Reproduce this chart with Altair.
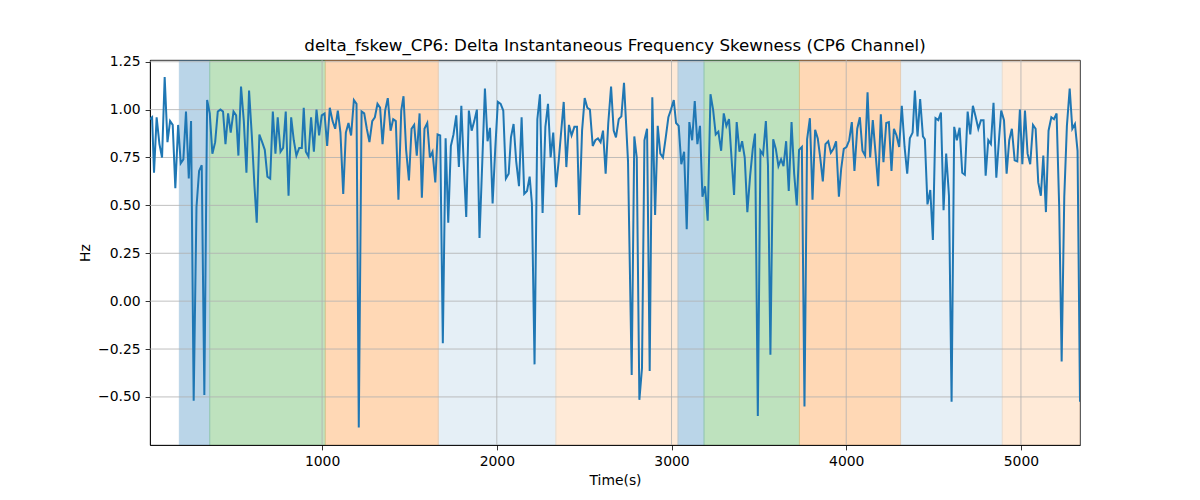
import altair as alt
import pandas as pd

# ---- data ----
time_s = [
    15, 27, 38, 53, 69, 84, 99, 115, 130, 145, 160, 176, 191, 206, 221, 237, 250, 265, 281, 296,
    311, 326, 342, 357, 372, 388, 403, 418, 433, 447, 462, 477, 493, 508, 521, 536, 552, 567, 582, 598,
    613, 626, 641, 657, 672, 687, 703, 718, 733, 746, 762, 777, 792, 808, 823, 838, 853, 869, 884, 895,
    907, 922, 937, 953, 968, 983, 998, 1014, 1029, 1044, 1060, 1075, 1090, 1105, 1121, 1136, 1151, 1166, 1182, 1197,
    1210, 1226, 1241, 1256, 1271, 1287, 1302, 1317, 1332, 1346, 1361, 1376, 1392, 1407, 1422, 1437, 1453, 1466, 1481, 1497,
    1512, 1527, 1542, 1558, 1571, 1586, 1602, 1617, 1632, 1648, 1661, 1676, 1691, 1707, 1722, 1737, 1752, 1768, 1783,
    1797, 1810, 1825, 1840, 1856, 1871, 1886, 1901, 1917, 1932, 1947, 1961, 1976, 1991, 2006, 2022, 2037, 2052, 2068, 2081,
    2096, 2111, 2127, 2142, 2157, 2173, 2188, 2201, 2216, 2232, 2247, 2262, 2278, 2293, 2308, 2323, 2339, 2354, 2367, 2383,
    2398, 2413, 2428, 2444, 2459, 2472, 2488, 2503, 2518, 2533, 2549, 2564, 2579, 2594, 2608, 2623, 2638, 2654, 2669,
    2682, 2698, 2713, 2728, 2751, 2772, 2787, 2801, 2816, 2831, 2845, 2860, 2875, 2890, 2906, 2921, 2936, 2951, 2967, 2982,
    2997, 3013, 3026, 3041, 3056, 3072, 3087, 3102, 3118, 3133, 3148, 3163, 3177, 3192, 3207, 3223, 3238, 3253, 3268, 3284,
    3299, 3314, 3329, 3345, 3358, 3373, 3389, 3404, 3419, 3434, 3450, 3465, 3478, 3494, 3509, 3524, 3540, 3552,
    3566, 3582, 3597, 3612, 3627, 3641, 3656, 3671, 3687, 3702, 3717, 3730, 3746, 3761, 3776, 3792, 3807, 3822, 3837, 3851,
    3866, 3881, 3897, 3912, 3927, 3942, 3958, 3971, 3986, 4002, 4017, 4032, 4047, 4063, 4078, 4093, 4108, 4122, 4137, 4152,
    4168, 4183, 4198, 4213, 4229, 4244, 4259, 4273, 4288, 4303, 4318, 4334, 4349, 4364, 4380, 4393, 4408, 4423, 4439, 4450,
    4465, 4481, 4496, 4511, 4527, 4542, 4557, 4572, 4588, 4603, 4618, 4633, 4649, 4664, 4679, 4695, 4710, 4725, 4740, 4756,
    4771, 4786, 4798, 4813, 4828, 4843, 4859, 4874, 4887, 4903, 4918, 4933, 4948, 4964, 4979, 4994, 5008, 5023, 5038, 5053,
    5069, 5084, 5099, 5114, 5128, 5143, 5158, 5174, 5189, 5204, 5219, 5233, 5248, 5263, 5279, 5294, 5309, 5324, 5338,
]

delta_fskew = [
    0.95, 0.96, 0.67, 0.96, 0.82, 0.75, 1.17, 0.83, 0.94, 0.92, 0.59, 0.92, 0.72, 0.74, 0.99, 0.64, 0.94, -0.52, 0.49, 0.68,
    0.71, -0.49, 1.05, 0.98, 0.77, 0.83, 0.99, 1.00, 0.99, 0.82, 0.98, 0.88, 0.99, 0.97, 0.76, 1.12, 0.94, 0.67, 1.10, 0.86,
    0.60, 0.41, 0.87, 0.83, 0.79, 0.65, 0.64, 0.99, 0.77, 0.96, 0.78, 0.80, 0.99, 0.55, 0.96, 0.84, 0.76, 0.80, 0.80, 1.01,
    0.78, 0.755, 0.96, 0.78, 1.00, 0.865, 0.97, 0.98, 0.81, 1.01, 0.94, 0.90, 0.995, 0.88, 0.56, 0.88, 0.93, 0.865, 1.05, 1.03,
    -0.66, 0.99, 0.98, 0.90, 0.83, 0.94, 0.96, 1.03, 1.01, 0.82, 0.995, 1.06, 0.89, 0.95, 0.94, 0.53, 0.995, 1.07, 0.79, 0.63,
    0.90, 0.92, 0.76, 0.98, 0.54, 0.90, 0.93, 0.75, 0.78, 0.62, 0.87, 0.865, -0.22, 0.85, 0.41, 0.81, 0.87, 0.97, 0.70,
    1.02, 0.73, 0.44, 0.995, 0.89, 0.94, 1.00, 0.33, 0.73, 1.11, 0.835, 0.905, 0.51, 0.795, 1.04, 1.03, 0.995, 0.64, 0.665, 0.855,
    0.925, 0.73, 0.60, 0.96, 0.56, 0.575, 0.65, 0.51, -0.33, 0.95, 1.08, 0.46, 0.91, 1.03, 0.75, 0.88, 0.595, 0.73, 0.87, 1.04,
    0.70, 0.92, 0.865, 0.91, 0.91, 0.45, 0.89, 1.06, 1.01, 1.00, 0.81, 0.84, 0.85, 0.83, 0.89, 0.665, 0.93, 1.12, 0.89,
    0.855, 0.95, 0.965, 1.14, 0.73, -0.385, 0.86, 0.75, -0.515, -0.35, 0.84, 0.90, -0.365, 1.065, 0.45, 0.915, 0.77, 0.75, 0.855, 0.96,
    1.00, 1.05, 0.93, 0.915, 0.715, 0.78, 0.375, 0.935, 0.84, 1.045, 0.82, 0.915, 0.545, 0.60, 0.42, 1.08, 1.00, 0.87, 0.885, 0.785,
    0.98, 0.915, 0.95, 0.725, 0.555, 0.935, 0.78, 0.835, 0.75, 0.465, 0.655, 0.795, 0.875, -0.60, 0.785, 0.765, 0.94, 0.71,
    -0.28, 0.845, 0.795, 0.705, 0.74, 0.705, 0.835, 0.575, 0.935, 0.665, 0.50, 0.79, 0.805, -0.55, 0.845, 0.955, 0.53, 0.895, 0.85, 0.75,
    0.625, 0.82, 0.835, 0.775, 0.795, 0.835, 0.545, 0.69, 0.795, 0.805, 0.84, 0.935, 0.68, 0.90, 0.96, 0.785, 0.76, 1.09, 0.75, 0.945,
    0.77, 0.60, 0.975, 0.725, 0.93, 0.935, 0.68, 0.90, 0.865, 0.805, 1.02, 0.805, 0.665, 0.85, 0.88, 1.10, 0.86, 1.055, 0.86, 0.845,
    0.505, 0.58, 0.32, 0.955, 0.945, 0.985, 0.475, 0.77, 0.55, -0.525, 0.91, 0.84, 0.905, 0.67, 0.66, 0.99, 0.87, 1.02, 0.965, 0.90,
    0.945, 0.945, 0.655, 0.84, 0.82, 1.035, 0.645, 0.84, 0.995, 0.945, 0.665, 0.84, 0.90, 0.735, 0.73, 1.00, 0.715, 0.995, 0.77, 0.715,
    0.92, 0.90, 0.62, 0.55, 0.76, 0.465, 0.89, 0.96, 0.95, 0.98, 0.49, -0.315, 0.545, 0.915, 1.11, 0.90, 0.925, 0.785, -0.525,
]

span_start = [183, 357, 1018, 1665, 2338, 3037, 3186, 3732, 4311, 4893]
span_end = [357, 1018, 1665, 2338, 3037, 3186, 3732, 4311, 4893, 5345]
span_color = ["#1f77b4", "#2ca02c", "#ff7f0e", "#1f77b4", "#ff7f0e",
              "#1f77b4", "#2ca02c", "#ff7f0e", "#1f77b4", "#ff7f0e"]
span_alpha = [0.3, 0.3, 0.3, 0.11, 0.16, 0.3, 0.3, 0.3, 0.11, 0.16]

x_ticks = [1000, 2000, 3000, 4000, 5000]
y_ticks = [-0.5, -0.25, 0.0, 0.25, 0.5, 0.75, 1.0, 1.25]

x_domain = [15, 5338]
y_domain = [-0.751, 1.259]

# ---- tables ----
line_df = pd.DataFrame({"t": time_s, "v": delta_fskew})
span_df = pd.DataFrame({"start": span_start, "end": span_end,
                        "color": span_color, "alpha": span_alpha})
xgrid_df = pd.DataFrame({"gx": x_ticks})
ygrid_df = pd.DataFrame({"gy": y_ticks})

FONT = "DejaVu Sans"

x_scale = alt.Scale(domain=x_domain, nice=False, zero=False)
y_scale = alt.Scale(domain=y_domain, nice=False, zero=False)
x_axis = alt.Axis(values=x_ticks, format="d", title="Time(s)", grid=False)
y_axis = alt.Axis(values=y_ticks, format=".2f", title="Hz", grid=False)

spans = alt.Chart(span_df).mark_rect(strokeWidth=1, clip=True).encode(
    x=alt.X("start:Q", scale=x_scale, axis=x_axis),
    x2="end:Q",
    fill=alt.Fill("color:N", scale=None),
    stroke=alt.Stroke("color:N", scale=None),
    opacity=alt.Opacity("alpha:Q", scale=None),
)

xgrid = alt.Chart(xgrid_df).mark_rule(color="#b0b0b0", strokeWidth=0.8).encode(
    x=alt.X("gx:Q", scale=x_scale, axis=x_axis),
)

ygrid = alt.Chart(ygrid_df).mark_rule(color="#b0b0b0", strokeWidth=0.8).encode(
    y=alt.Y("gy:Q", scale=y_scale, axis=y_axis),
)

line = alt.Chart(line_df).mark_line(color="#1f77b4", strokeWidth=2.0, clip=True).encode(
    x=alt.X("t:Q", scale=x_scale, axis=x_axis),
    y=alt.Y("v:Q", scale=y_scale, axis=y_axis),
)

chart = alt.layer(spans, xgrid, ygrid, line).properties(
    width=930,
    height=385,
    padding={"left": 150, "top": 60, "right": 120, "bottom": 55},
    autosize=alt.AutoSizeParams(type="none"),
    title=alt.TitleParams(
        "delta_fskew_CP6: Delta Instantaneous Frequency Skewness (CP6 Channel)",
        font=FONT, fontSize=16.7, fontWeight="normal", color="black",
        anchor="middle", offset=0,
    ),
).configure_view(
    stroke="black", strokeWidth=0.8,
).configure_axis(
    domain=True, domainColor="black", domainWidth=0.8,
    ticks=True, tickColor="black", tickWidth=0.8, tickSize=4.9,
    labelFont=FONT, labelFontSize=13.9, labelColor="black", labelPadding=4.9,
    titleFont=FONT, titleFontSize=13.9, titleFontWeight="normal", titleColor="black",
    zindex=1,
).configure_axisX(
    titlePadding=5,
).configure_axisY(
    titlePadding=5,
)

chart.save("out.html", embed_options={"renderer": "svg", "actions": False})
